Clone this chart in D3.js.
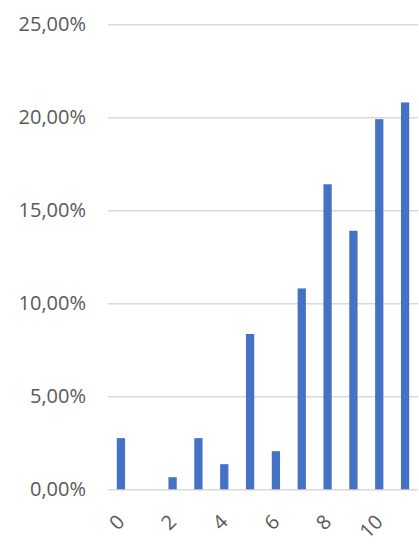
<!DOCTYPE html>
<html><head><meta charset="utf-8">
<script src="https://cdn.jsdelivr.net/npm/d3@7"></script>
<style>html,body{margin:0;padding:0;background:#fff;}</style>
</head><body>
<svg id="chart" width="419" height="559"></svg>
<script>
const categories = [0,1,2,3,4,5,6,7,8,9,10,11];
const values = [2.75, 0, 0.65, 2.75, 1.35, 8.35, 2.05, 10.8, 16.4, 13.9, 19.9, 20.8];
const yTicks = [0, 5, 10, 15, 20, 25];
const xTickLabels = [0, 2, 4, 6, 8, 10];

const svg = d3.select("#chart");
const mLeft = 108, mRight = 418, mTop = 24.3, mBottom = 489.3;
const x = d3.scaleBand().domain(categories).range([mLeft, mRight]).paddingInner(0.68).paddingOuter(0.34);
const y = d3.scaleLinear().domain([0, 25]).range([mBottom, mTop]);
const fmt = v => v.toFixed(2).replace(".", ",") + "%";

const yAxis = d3.axisLeft(y).tickValues(yTicks).tickSize(-(mRight-mLeft)).tickFormat(fmt).tickPadding(22);
const gy = svg.append("g").attr("transform", `translate(${mLeft},0)`).call(yAxis);
gy.select(".domain").remove();
gy.selectAll(".tick line").attr("stroke", "#d9d9d9").attr("stroke-width", 1.5);
gy.selectAll(".tick text").attr("fill", "#595959").style("font-family", "'Open Sans', 'Liberation Sans', sans-serif").style("font-size", "20px");

svg.append("g").selectAll("rect").data(categories).join("rect")
  .attr("x", d => x(d))
  .attr("width", x.bandwidth())
  .attr("y", (d,i) => y(values[i]))
  .attr("height", (d,i) => y(0) - y(values[i]))
  .attr("fill", "#4472C4");

const xAxis = d3.axisBottom(x).tickValues(xTickLabels).tickSize(0).tickPadding(0);
const gx = svg.append("g").attr("transform", `translate(0,${mBottom})`).call(xAxis);
gx.select(".domain").remove();
gx.selectAll(".tick text")
  .attr("fill", "#595959")
  .style("font-family", "'Open Sans', 'Liberation Sans', sans-serif")
  .style("font-size", "20px")
  .attr("text-anchor", "end")
  .attr("y", 0)
  .attr("dy", "0.35em")
  .attr("transform", "translate(0,29) rotate(-45)");
</script>
</body></html>
